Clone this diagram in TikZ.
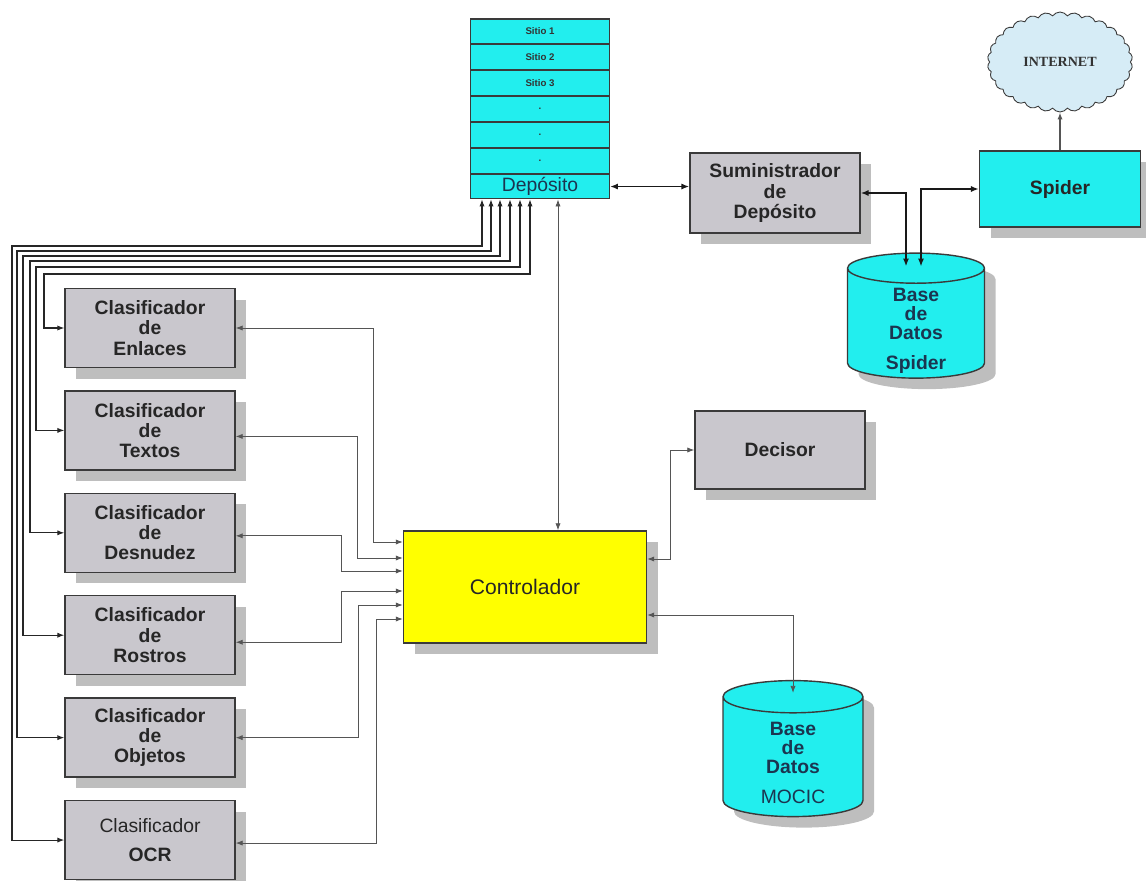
\documentclass[tikz,border=0pt]{standalone}
\usepackage{fontspec}
\setmainfont{Liberation Sans}
\newfontfamily\netfont{Liberation Serif}
\usetikzlibrary{arrows.meta,positioning,calc,shapes.geometric,shapes.symbols,shadows}
\definecolor{boxgray}{HTML}{C9C7CD}
\definecolor{shadegray}{HTML}{BEBEBE}
\definecolor{edgegray}{HTML}{3A3A3A}
\definecolor{depcyan}{HTML}{22EEEE}
\definecolor{ctrlyellow}{HTML}{FFFF00}
\definecolor{cloudblue}{HTML}{D6ECF6}
\definecolor{navytext}{HTML}{1B3550}
\definecolor{linkgray}{HTML}{555555}
% text of a cylinder, lowered below its top face
\newcommand{\dblines}[1]{\raisebox{-2.6mm}[0pt][0pt]{\begin{tabular}{@{}c@{}}#1\end{tabular}}}
\tikzset{
  block/.style  = {draw=edgegray, line width=0.8pt, fill=boxgray, minimum width=34mm,
                   minimum height=15.8mm, inner sep=1pt, align=center, text=black!85,
                   font=\fontsize{11}{11.5}\selectfont\bfseries,
                   drop shadow={shadow xshift=2.2mm, shadow yshift=-2.2mm, fill=shadegray, opacity=1}},
  cell/.style   = {draw=edgegray, line width=0.6pt, fill=depcyan, minimum width=27.8mm,
                   minimum height=4.96mm, inner sep=0pt, text=black!80,
                   font=\fontsize{5.5}{6}\selectfont\bfseries},
  dbase/.style  = {cylinder, shape border rotate=90, aspect=0.5, draw=edgegray, line width=0.8pt,
                   fill=depcyan, inner sep=0pt, text=navytext,
                   font=\fontsize{11}{10.5}\selectfont\bfseries,
                   drop shadow={shadow xshift=2.2mm, shadow yshift=-2.2mm, fill=shadegray, opacity=1}},
  fb/.style     = {{Latex[length=4pt, width=3pt]}-{Latex[length=4pt, width=3pt]}, draw=black!85, line width=0.6pt},
  link/.style   = {{Latex[length=4pt, width=3pt]}-{Latex[length=4pt, width=3pt]}, draw=linkgray, line width=0.5pt},
  heavy/.style  = {{Latex[length=4.5pt, width=3.5pt]}-{Latex[length=4.5pt, width=3.5pt]}, draw=black!90, line width=1.1pt},
}
\begin{document}
\begin{tikzpicture}[x=0.2mm, y=-0.2mm]
  \useasboundingbox (0,0) rectangle (1146,880);
  % deposit stack
  \node[cell] (s1) at (540,31.4) {Sitio 1};
  \node[cell, below=0pt of s1] (s2) {Sitio 2};
  \node[cell, below=0pt of s2] (s3) {Sitio 3};
  \node[cell, below=0pt of s3] (s4) {.};
  \node[cell, below=0pt of s4] (s5) {.};
  \node[cell, below=0pt of s5] (s6) {.};
  \node[cell, below=0pt of s6, font=\fontsize{11}{12}\selectfont, text=navytext] (dep) {Depósito};
  % crawler side
  \node[block, minimum height=16mm] (sumi) at (775,193) {Suministrador\\de\\Depósito};
  \node[block, fill=depcyan, minimum width=32.2mm, minimum height=15.2mm] (spider) at (1060,189) {Spider};
  \node[cloud, cloud puffs=30, cloud puff arc=110, aspect=1.45, draw=edgegray, line width=0.5pt,
        fill=cloudblue, minimum width=29mm, minimum height=20mm, text=black!80,
        font=\netfont\bfseries\fontsize{8}{9}\selectfont] (inet) at (1060,62) {INTERNET};
  \node[dbase, minimum width=27.4mm, minimum height=25mm] (sdb) at (916,323.5)
    {\dblines{Base\\de\\Datos\\[6pt]Spider}};
  % classifiers
  \node[block] (cEnl) at (150,328) {Clasificador\\de\\Enlaces};
  \node[block, below=4.4mm of cEnl] (cTex) {Clasificador\\de\\Textos};
  \node[block, below=4.4mm of cTex] (cDes) {Clasificador\\de\\Desnudez};
  \node[block, below=4.4mm of cDes] (cRos) {Clasificador\\de\\Rostros};
  \node[block, below=4.4mm of cRos] (cObj) {Clasificador\\de\\Objetos};
  \node[block, below=4.4mm of cObj] (cOcr) {{\mdseries Clasificador}\\[5pt]OCR};
  % control
  \node[block, fill=ctrlyellow, minimum width=48.6mm, minimum height=22.4mm,
        font=\fontsize{12}{13}\selectfont] (ctrl) at (525,587) {Controlador};
  \node[block, minimum height=15.6mm] (dec) at (780,450) {Decisor};
  \node[dbase, minimum width=28mm, minimum height=27.2mm] (mdb) at (793,757)
    {\dblines{Base\\de\\Datos\\[6pt]{\mdseries MOCIC}}};
  % deposit links
  \draw[heavy] (dep.east) -- (dep.east -| sumi.west);
  \draw[heavy] (sumi.east) -| ($(sdb.north)+(-10,14)$);
  \draw[heavy, line width=0.8pt] (spider.west) -| ($(sdb.north)+(5,14)$);
  \draw[-{Latex[length=4pt, width=3pt]}, draw=linkgray, line width=0.8pt] (spider.north) -- (inet.south);
  \coordinate (dtap) at ($(dep.south)+(18,0)$);
  \draw[link] (dtap) -- (dtap |- ctrl.north);
  % feedback to the deposit
  \draw[fb] (cOcr.west) -| (12,246) -| ($(dep.south)+(-58,0)$);
  \draw[fb] (cObj.west) -| (17,251) -| ($(dep.south)+(-49,0)$);
  \draw[fb] (cRos.west) -| (23,256) -| ($(dep.south)+(-40,0)$);
  \draw[fb] (cDes.west) -| (30,261) -| ($(dep.south)+(-30,0)$);
  \draw[fb] (cTex.west) -| (36,267) -| ($(dep.south)+(-20,0)$);
  \draw[fb] (cEnl.west) -| (44,274) -| ($(dep.south)+(-10,0)$);
  % classifiers to controller
  \draw[link] (cEnl.east) -| ($(ctrl.west)+(-29,-45)$) -- ($(ctrl.west)+(0,-45)$);
  \draw[link] ($(cTex.east)+(0,6)$) -| ($(ctrl.west)+(-45,-29)$) -- ($(ctrl.west)+(0,-29)$);
  \draw[link] ($(cDes.east)+(0,3)$) -| ($(ctrl.west)+(-61,-16)$) -- ($(ctrl.west)+(0,-16)$);
  \draw[link] ($(cRos.east)+(0,7)$) -| ($(ctrl.west)+(-61,4)$) -- ($(ctrl.west)+(0,4)$);
  \draw[link] (cObj.east) -| ($(ctrl.west)+(-44,18)$) -- ($(ctrl.west)+(0,18)$);
  \draw[link] ($(cOcr.east)+(0,3)$) -| ($(ctrl.west)+(-26,32)$) -- ($(ctrl.west)+(0,32)$);
  % controller outputs
  \draw[link] (dec.west) -- ++(-24,0) |- ($(ctrl.east)+(0,-28)$);
  \draw[link] ($(ctrl.east)+(0,28)$) -| ($(mdb.north)+(0,13)$);
\end{tikzpicture}
\end{document}
